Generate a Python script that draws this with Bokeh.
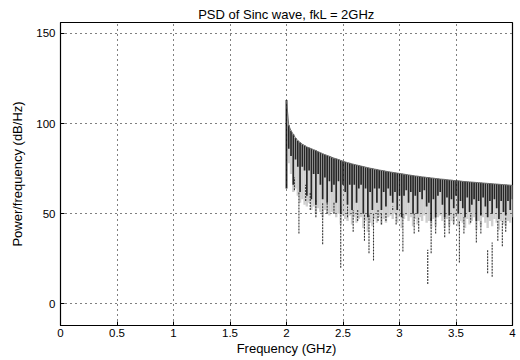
from bokeh.plotting import figure
from bokeh.models import Range1d, FixedTicker
from bokeh.embed import file_html
from bokeh.resources import INLINE

# ---------------- data ----------------
freq_ghz = [
    2.00, 2.02, 2.04, 2.06, 2.08, 2.10, 2.12, 2.14, 2.16, 2.18,
    2.20, 2.22, 2.24, 2.26, 2.28, 2.30, 2.32, 2.34, 2.36, 2.38,
    2.40, 2.42, 2.44, 2.46, 2.48, 2.50, 2.52, 2.54, 2.56, 2.58,
    2.60, 2.62, 2.64, 2.66, 2.68, 2.70, 2.72, 2.74, 2.76, 2.78,
    2.80, 2.82, 2.84, 2.86, 2.88, 2.90, 2.92, 2.94, 2.96, 2.98,
    3.00, 3.02, 3.04, 3.06, 3.08, 3.10, 3.12, 3.14, 3.16, 3.18,
    3.20, 3.22, 3.24, 3.26, 3.28, 3.30, 3.32, 3.34, 3.36, 3.38,
    3.40, 3.42, 3.44, 3.46, 3.48, 3.50, 3.52, 3.54, 3.56, 3.58,
    3.60, 3.62, 3.64, 3.66, 3.68, 3.70, 3.72, 3.74, 3.76, 3.78,
    3.80, 3.82, 3.84, 3.86, 3.88, 3.90, 3.92, 3.94, 3.96, 3.98,
    4.00,
]
# upper envelope of the PSD (dB/Hz)
psd_top = [
    113, 99, 96, 94, 92, 90.5, 89.5, 88.5, 87.8, 87,
    86.5, 86, 85.4, 85, 84.3, 83.8, 83.2, 82.7, 82.3, 81.8,
    81.3, 80.8, 80.4, 80, 79.5, 79.1, 78.7, 78.3, 78, 77.6,
    77.3, 77, 76.7, 76.4, 76.1, 75.8, 75.5, 75.2, 75, 74.7,
    74.5, 74.2, 74, 73.8, 73.5, 73.3, 73.1, 72.9, 72.7, 72.5,
    72.3, 72.1, 71.9, 71.7, 71.5, 71.3, 71.1, 70.9, 70.8, 70.6,
    70.4, 70.3, 70.1, 70, 69.8, 69.7, 69.5, 69.4, 69.2, 69.1,
    69, 68.8, 68.7, 68.6, 68.4, 68.3, 68.2, 68.1, 67.9, 67.8,
    67.7, 67.6, 67.5, 67.4, 67.3, 67.2, 67.1, 67, 66.9, 66.8,
    66.7, 66.6, 66.5, 66.4, 66.3, 66.2, 66.1, 66, 65.9, 65.8,
    65.7,
]
# lower end of the dense dark band
psd_dark_low = [
    64, 86, 82, 66, 80, 76, 62, 76, 74, 60,
    74, 58, 72, 55, 72, 66, 58, 70, 56, 68,
    62, 66, 56, 68, 50, 66, 62, 55, 66, 52,
    66, 56, 64, 66, 50, 64, 48, 62, 52, 64,
    56, 64, 52, 62, 54, 64, 60, 56, 62, 52,
    60, 48, 60, 63, 56, 62, 50, 60, 50, 62,
    58, 63, 54, 56, 46, 58, 48, 60, 62, 55,
    48, 59, 49, 58, 53, 60, 50, 57, 53, 48,
    59, 51, 55, 58, 46, 57, 49, 59, 54, 48,
    57, 50, 58, 53, 47, 57, 51, 49, 57, 52,
    58,
]
# lower end of the light grey band
psd_light_low = [
    64, 78, 72, 62, 64, 60, 56, 58, 55, 54,
    56, 52, 54, 50, 53, 51, 48, 52, 50, 49,
    51, 50, 48, 50, 44, 49, 47, 46, 49, 44,
    48, 45, 47, 48, 42, 46, 40, 45, 43, 47,
    45, 48, 44, 47, 45, 48, 49, 47, 50, 45,
    48, 42, 47, 49, 46, 48, 43, 47, 44, 48,
    46, 49, 45, 46, 42, 47, 43, 48, 49, 46,
    42, 47, 43, 46, 45, 48, 43, 46, 45, 42,
    47, 44, 46, 48, 41, 46, 43, 48, 45, 42,
    46, 43, 47, 45, 41, 46, 44, 43, 46, 45,
    48,
]
# isolated deep notches
dip_freq = [2.07, 2.11, 2.17, 2.21, 2.26, 2.32, 2.36, 2.42, 2.48, 2.54,
            2.59, 2.63, 2.69, 2.73, 2.77, 2.81, 2.84, 2.88, 2.94, 2.97,
            3.03, 3.13, 3.17, 3.25, 3.28, 3.32, 3.40, 3.44, 3.48, 3.53,
            3.57, 3.63, 3.68, 3.72, 3.78, 3.82, 3.87, 3.91, 3.94]
dip_top = [70, 62, 66, 62, 58, 56, 56, 56, 54, 54,
           52, 52, 50, 50, 50, 52, 50, 50, 54, 50,
           50, 50, 48, 30, 48, 48, 48, 48, 50, 46,
           48, 50, 46, 46, 30, 34, 46, 46, 48]
dip_low = [63, 39, 57, 52, 48, 33, 50, 50, 20, 48,
           40, 46, 35, 28, 24, 46, 44, 46, 52, 44,
           29, 39, 40, 11, 28, 39, 37, 39, 44, 23,
           39, 45, 34, 39, 17, 15, 35, 32, 40]

x_ticks = [0, 0.5, 1, 1.5, 2, 2.5, 3, 3.5, 4]
x_tick_labels = ["0", "0.5", "1", "1.5", "2", "2.5", "3", "3.5", "4"]
y_ticks = [0, 50, 100, 150]
y_tick_labels = ["0", "50", "100", "150"]

FONT = "Liberation Sans"

p = figure(width=520, height=360, output_backend="svg", toolbar_location=None,
           x_range=Range1d(0, 4), y_range=Range1d(-12, 156),
           min_border_left=60, min_border_right=8, min_border_top=22,
           min_border_bottom=35, title="PSD of Sinc wave, fkL = 2GHz")
p.background_fill_color = "white"
p.border_fill_color = "white"
p.outline_line_color = "black"
p.outline_line_width = 1.2

p.title.align = "center"
p.title.text_font = FONT
p.title.text_font_size = "13px"
p.title.text_font_style = "normal"
p.title.text_color = "black"
p.title.standoff = 2

# data layers
p.segment(x0=freq_ghz, x1=freq_ghz, y0=psd_light_low, y1=psd_top,
          line_color="#cfcfcf", line_width=2.4)
p.segment(x0=dip_freq, x1=dip_freq, y0=dip_low, y1=dip_top,
          line_color="#333333", line_width=1.1, line_dash="2 1")
p.segment(x0=freq_ghz, x1=freq_ghz, y0=psd_dark_low, y1=psd_top,
          line_color="#262626", line_width=1.7)
p.line(freq_ghz, psd_top, line_color="#6a6a6a", line_width=1)

# grid
for g in (p.xgrid, p.ygrid):
    g.grid_line_color = "black"
    g.grid_line_dash = "1 4"
    g.grid_line_width = 1
    g.level = "overlay"
p.xgrid.ticker = FixedTicker(ticks=x_ticks)
p.ygrid.ticker = FixedTicker(ticks=y_ticks)

# axes
def style(ax, ticks, labels):
    ax.ticker = FixedTicker(ticks=ticks)
    ax.major_label_overrides = {t: l for t, l in zip(ticks, labels)}
    ax.major_tick_in = 4
    ax.major_tick_out = 0
    ax.minor_tick_line_color = None
    ax.axis_line_color = "black"
    ax.major_tick_line_color = "black"
    ax.major_label_text_font = FONT
    ax.major_label_text_color = "black"
    ax.major_label_text_font_size = "11.5px"
    ax.axis_label_text_font = FONT
    ax.axis_label_text_font_style = "normal"
    ax.axis_label_text_font_size = "13px"
    ax.axis_label_text_color = "black"

xa = p.xaxis[0]
ya = p.yaxis[0]
style(xa, x_ticks, x_tick_labels)
style(ya, y_ticks, y_tick_labels)
xa.axis_label = "Frequency (GHz)"
ya.axis_label = "Power/frequency (dB/Hz)"
xa.major_label_standoff = 3
ya.major_label_standoff = 5
xa.axis_label_standoff = 1
ya.axis_label_standoff = 8

open("out.html", "w").write(file_html(p, INLINE))
